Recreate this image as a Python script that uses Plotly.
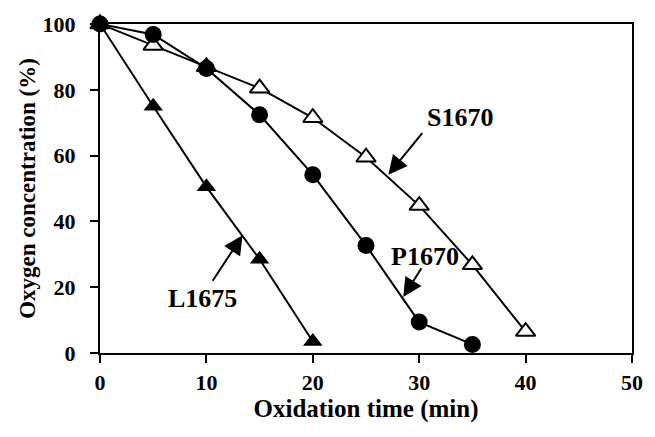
import plotly.graph_objects as go

# Data
l_time = [0, 5, 10, 15, 20]
l_oxy = [100, 75, 50.5, 28.5, 3.5]

p_time = [0, 5, 10, 15, 20, 25, 30, 35]
p_oxy = [100, 96.8, 86.5, 72.4, 54.2, 32.7, 9.4, 2.6]

s_time = [0, 5, 10, 15, 20, 25, 30, 35, 40]
s_oxy = [100, 93.5, 87, 80.5, 71.5, 59.5, 44.8, 26.8, 6.5]

x_ticks = [0, 10, 20, 30, 40, 50]
y_ticks = [0, 20, 40, 60, 80, 100]

FONT = "Liberation Serif"

fig = go.Figure()
fig.add_trace(go.Scatter(x=l_time, y=l_oxy, mode="lines+markers",
                         line=dict(color="black", width=2),
                         marker=dict(symbol="triangle-up", size=17, color="black"),
                         cliponaxis=False, name="L1675"))
fig.add_trace(go.Scatter(x=s_time, y=s_oxy, mode="lines+markers",
                         line=dict(color="black", width=2),
                         marker=dict(symbol="triangle-up", size=17, color="white",
                                     line=dict(color="black", width=2)),
                         cliponaxis=False, name="S1670"))
fig.add_trace(go.Scatter(x=p_time, y=p_oxy, mode="lines+markers",
                         line=dict(color="black", width=2),
                         marker=dict(symbol="circle", size=17, color="black"),
                         cliponaxis=False, name="P1670"))

ann_font = dict(family=FONT, size=26, color="black")
arrow_kw = dict(axref="x", ayref="y", text="", showarrow=True, arrowhead=2,
                arrowsize=1.9, arrowwidth=2, arrowcolor="black")
annotations = [
    dict(x=33.8, y=71.5, text="<b>S1670</b>", showarrow=False, font=ann_font),
    dict(x=27.1, y=54.2, ax=30.4, ay=67.3, **arrow_kw),
    dict(x=30.5, y=29.3, text="<b>P1670</b>", showarrow=False, font=ann_font),
    dict(x=28.5, y=17.0, ax=30.3, ay=26.2, **arrow_kw),
    dict(x=9.6, y=16.7, text="<b>L1675</b>", showarrow=False, font=ann_font),
    dict(x=13.4, y=35.8, ax=10.5, ay=21.5, **arrow_kw),
]

fig.update_layout(
    width=655, height=437,
    margin=dict(l=100, r=14, t=23, b=84),
    paper_bgcolor="white", plot_bgcolor="white",
    showlegend=False,
    font=dict(family=FONT, color="black"),
    annotations=annotations,
)
fig.update_xaxes(
    range=[0, 50], tickvals=x_ticks, ticktext=[f"<b>{v}</b>" for v in x_ticks],
    showgrid=False, zeroline=False, showline=True, linecolor="black", linewidth=2,
    mirror=True, ticks="outside", ticklen=8, tickwidth=2, tickcolor="black",
    tickfont=dict(family=FONT, size=22, color="black"), ticklabelstandoff=1,
    title=dict(text="<b>Oxidation time (min)</b>", font=dict(family=FONT, size=25, color="black"), standoff=2),
)
fig.update_yaxes(
    range=[0, 100], tickvals=y_ticks, ticktext=[f"<b>{v}</b>" for v in y_ticks],
    showgrid=False, zeroline=False, showline=True, linecolor="black", linewidth=2,
    mirror=True, ticks="outside", ticklen=8, tickwidth=2, tickcolor="black",
    tickfont=dict(family=FONT, size=22, color="black"), ticklabelstandoff=10,
    title=dict(text="<b>Oxygen concentration (%)</b>", font=dict(family=FONT, size=23, color="black"), standoff=1),
)

fig.write_html("out.html")
